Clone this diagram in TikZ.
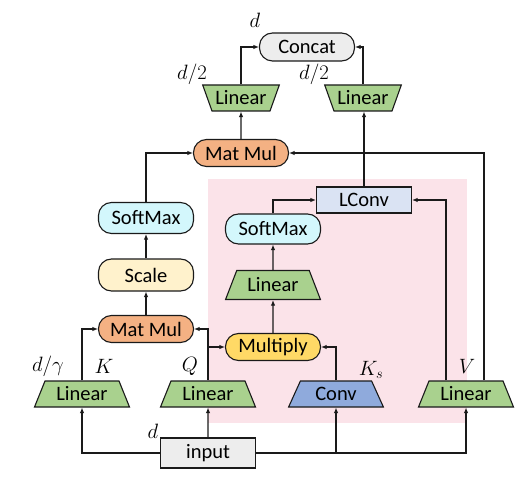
\documentclass[tikz,border=0pt]{standalone}
\usepackage{fontspec}
\setmainfont{Carlito}
\usetikzlibrary{shapes.geometric,arrows.meta}
\definecolor{cgray}{HTML}{EDEDED}
\definecolor{cgreen}{HTML}{A9D18E}
\definecolor{corange}{HTML}{F4B183}
\definecolor{ccyan}{HTML}{D3F7FC}
\definecolor{cyell}{HTML}{FFF2CC}
\definecolor{cmult}{HTML}{FFD966}
\definecolor{cconv}{HTML}{8FAADC}
\definecolor{clconv}{HTML}{DAE3F3}
\definecolor{cpink}{HTML}{FBE3E9}
\definecolor{cline}{HTML}{1A1A1A}
\tikzset{
  base/.style={draw=cline, line width=1.1pt, inner sep=0pt, font=\fontsize{20.5}{24}\selectfont},
  pill/.style={base, rectangle, rounded corners=13pt, minimum width=95pt, minimum height=28pt},
  box/.style={base, rectangle, minimum width=95pt, minimum height=27pt},
  trap/.style={base, trapezium, trapezium stretches=true, trapezium angle=63, minimum width=95pt, minimum height=26pt, fill=cgreen},
  itrap/.style={base, trapezium, trapezium stretches=true, trapezium angle=60, shape border rotate=180, minimum width=77pt, minimum height=26pt, fill=cgreen},
  conn/.style={draw=cline, line width=1.1pt, -{Latex[length=5.5pt,width=4.5pt]}},
  lab/.style={inner sep=0pt, font=\fontsize{21}{24}\selectfont}
}
\begin{document}
\begin{tikzpicture}[x=1pt,y=-1pt]
\useasboundingbox (0,0) rectangle (524,486);
\fill[cpink] (208,179) rectangle (467,423);
% nodes
\node[pill, fill=cgray] (concat) at (307,47) {Concat};
\node[itrap] (lin1) at (241,98) {Linear};
\node[itrap] (lin2) at (363,98) {Linear};
\node[pill, fill=corange, minimum height=27pt] (mm1) at (241,153) {Mat Mul};
\node[pill, fill=ccyan, minimum height=31pt] (sm1) at (146,218) {SoftMax};
\node[pill, fill=cyell, minimum height=32pt] (scale) at (146,275) {Scale};
\node[pill, fill=corange, minimum height=27pt] (mm2) at (146,329) {Mat Mul};
\node[box, fill=clconv, minimum height=26pt] (lconv) at (364,200) {LConv};
\node[pill, fill=ccyan, minimum height=30pt] (sm2) at (273,229) {SoftMax};
\node[trap, minimum height=29pt, trapezium angle=61] (lin3) at (273,285) {Linear};
\node[pill, fill=cmult, minimum height=27pt] (mult) at (273,347) {Multiply};
\node[trap, fill=cconv] (conv) at (336,394) {Conv};
\node[trap] (linK) at (82,394) {Linear};
\node[trap] (linQ) at (208,394) {Linear};
\node[trap] (linV) at (466,394) {Linear};
\node[box, fill=cgray, minimum height=30pt, line width=1.5pt] (input) at (208,453) {input};
% labels
\node[lab] (ld) at (255,20) {$d$};
\node[lab] (ld2a) at (192,74) {$d/2$};
\node[lab] (ld2b) at (314,74) {$d/2$};
\node[lab] (ldg) at (48,366) {$d/\gamma$};
\node[lab] (lK) at (104,366) {$K$};
\node[lab] (lQ) at (190,366) {$Q$};
\node[lab] (lKs) at (371,370) {$K_s$};
\node[lab] (lV) at (467,366) {$V$};
\node[lab] (ldi) at (153,431) {$d$};
% connectors
\draw[conn] (lin1.north) |- (concat.west);
\draw[conn] (lin2.north) |- (concat.east);
\draw[conn] (mm1.north) -- (lin1.south);
\draw[conn] (lconv.north) -- (lconv.north |- lin2.south);
\draw[conn] (sm1.north) |- (mm1.west);
\draw[conn] (scale.north) -- (sm1.south);
\draw[conn] (mm2.north) -- (scale.south);
\draw[conn] (linK.north) |- (mm2.west);
\draw[conn] (linQ.north) |- (mm2.east);
\draw[conn] (linQ.north |- mult.west) -- (mult.west);
\draw[conn] (conv.north) |- (mult.east);
\draw[conn] (sm2.north) |- (lconv.west);
\draw[conn] (mult.north) -- (lin3.south);
\draw[conn] (lin3.north) -- (sm2.south);
\draw[conn] ([xshift=-20pt]linV.north) |- (lconv.east);
\draw[conn] ([xshift=18pt]linV.north) |- (mm1.east);
\draw[conn] (input.north) -- (linQ.south);
\draw[conn] (input.west) -| (linK.south);
\draw[conn] (input.east) -| (conv.south);
\draw[conn] (input.east) -| (linV.south);
\end{tikzpicture}
\end{document}
